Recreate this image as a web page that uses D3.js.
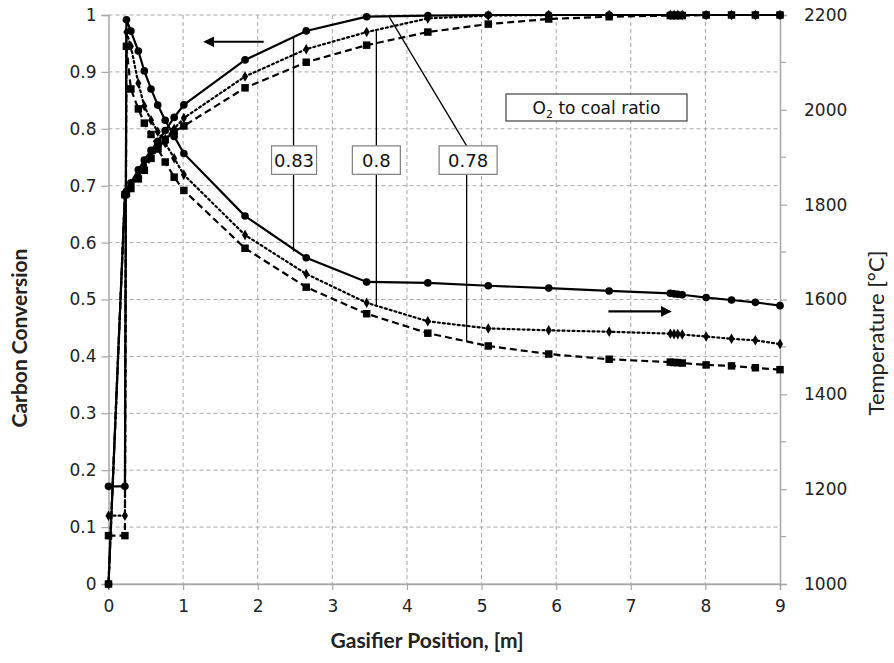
<!DOCTYPE html>
<html>
<head>
<meta charset="utf-8">
<script src="https://cdn.jsdelivr.net/npm/d3@7"></script>
<style>
  body { margin: 0; background: #fff; }
  svg { display: block; }
</style>
</head>
<body>
<svg id="chart" width="894" height="663"></svg>
<script>
// ---------- data ----------
const positions = [0, 0.22, 0.24, 0.30, 0.40, 0.48, 0.57, 0.66, 0.76, 0.88, 1.01, 1.83, 2.65, 3.46, 4.28, 5.09, 5.90, 6.71, 7.53, 7.58, 7.63, 7.69, 8.01, 8.35, 8.67, 9.00];

const ratios = ["0.83", "0.8", "0.78"];

const conv083 = [0, 0.684, 0.690, 0.705, 0.728, 0.745, 0.762, 0.778, 0.797, 0.820, 0.842, 0.921, 0.972, 0.997, 0.999, 1.0, 1.0, 1.0, 1.0, 1.0, 1.0, 1.0, 1.0, 1.0, 1.0, 1.0];
const conv080 = [0, 0.684, 0.688, 0.700, 0.720, 0.735, 0.752, 0.767, 0.782, 0.800, 0.819, 0.892, 0.940, 0.970, 0.994, 0.999, 1.0, 1.0, 1.0, 1.0, 1.0, 1.0, 1.0, 1.0, 1.0, 1.0];
const conv078 = [0, 0.684, 0.686, 0.695, 0.712, 0.727, 0.748, 0.765, 0.781, 0.795, 0.805, 0.872, 0.917, 0.947, 0.970, 0.984, 0.993, 0.997, 0.999, 0.999, 0.999, 0.999, 1.0, 1.0, 1.0, 1.0];

const temp083 = [1206, 1206, 2190, 2166, 2124, 2082, 2044, 2010, 1978, 1944, 1908, 1776, 1688, 1637, 1635, 1629, 1624, 1618, 1613, 1612, 1611, 1610, 1604, 1599, 1594, 1587];
const temp080 = [1144, 1144, 2164, 2134, 2056, 2008, 1978, 1954, 1930, 1898, 1863, 1736, 1654, 1593, 1554, 1539, 1535, 1532, 1528, 1527, 1527, 1526, 1522, 1517, 1514, 1506];
const temp078 = [1102, 1102, 2134, 2044, 2002, 1972, 1948, 1918, 1890, 1858, 1830, 1708, 1626, 1570, 1529, 1502, 1485, 1474, 1468, 1467, 1467, 1466, 1462, 1460, 1456, 1452];

const xTicks = [0, 1, 2, 3, 4, 5, 6, 7, 8, 9];
const convTicks = [0, 0.1, 0.2, 0.3, 0.4, 0.5, 0.6, 0.7, 0.8, 0.9, 1];
const tempTicks = [1000, 1200, 1400, 1600, 1800, 2000, 2200];
const tempGrid = [1000, 1100, 1200, 1300, 1400, 1500, 1600, 1700, 1800, 1900, 2000, 2100, 2200];

// ---------- layout ----------
const svg = d3.select("#chart");
const L = 108.5, R = 780, T = 15, B = 584;
const x = d3.scaleLinear().domain([0, 9]).range([L, R]);
const yC = d3.scaleLinear().domain([0, 1]).range([B, T]);
const yT = d3.scaleLinear().domain([1000, 2200]).range([B, T]);

const gridColor = "#a6a6a6";
const tickFont = "DejaVu Sans, Verdana, sans-serif";

// grid: horizontal (every 0.1 conversion)
svg.append("g").selectAll("line").data(convTicks).join("line")
  .attr("x1", L).attr("x2", R)
  .attr("y1", d => yC(d)).attr("y2", d => yC(d))
  .attr("stroke", gridColor).attr("stroke-width", 1)
  .attr("stroke-dasharray", d => d === 0 ? null : "4,3");
// grid: vertical
svg.append("g").selectAll("line").data(xTicks.slice(1, -1)).join("line")
  .attr("x1", d => x(d)).attr("x2", d => x(d))
  .attr("y1", T).attr("y2", B)
  .attr("stroke", gridColor).attr("stroke-width", 1)
  .attr("stroke-dasharray", "4,3");

// axes
function styleAxis(g) {
  g.select(".domain").attr("stroke", gridColor).attr("stroke-width", 1.5);
  g.selectAll(".tick line").attr("stroke", gridColor).attr("stroke-width", 1.2);
  g.selectAll(".tick text").attr("fill", "#222").attr("font-family", tickFont).attr("font-size", 17);
}
const xAxis = svg.append("g").attr("transform", `translate(0,${B})`)
  .call(d3.axisBottom(x).tickValues(xTicks).tickFormat(d3.format("d")).tickSizeOuter(0).tickSize(6).tickPadding(10));
styleAxis(xAxis);
const yAxisL = svg.append("g").attr("transform", `translate(${L},0)`)
  .call(d3.axisLeft(yC).tickValues(convTicks).tickFormat(d => d === 0 || d === 1 ? d3.format("d")(d) : d3.format(".1f")(d)).tickSizeOuter(0).tickSize(7).tickPadding(5));
styleAxis(yAxisL);
const yAxisR = svg.append("g").attr("transform", `translate(${R},0)`)
  .call(d3.axisRight(yT).tickValues(tempTicks).tickFormat(d3.format("d")).tickSizeOuter(0).tickSize(7).tickPadding(17));
styleAxis(yAxisR);
// minor ticks on right axis (grid positions)
svg.append("g").selectAll("line").data(tempGrid.filter(d => !tempTicks.includes(d))).join("line")
  .attr("x1", R).attr("x2", R + 6).attr("y1", d => yT(d)).attr("y2", d => yT(d))
  .attr("stroke", gridColor).attr("stroke-width", 1.2);

// axis titles
svg.append("text").attr("x", 427).attr("y", 648).attr("text-anchor", "middle")
  .attr("font-family", "Lato, sans-serif").attr("font-weight", "bold").attr("font-size", 21).attr("fill", "#222")
  .text("Gasifier Position, [m]");
svg.append("text").attr("transform", `translate(27,338) rotate(-90)`).attr("text-anchor", "middle")
  .attr("font-family", "Lato, sans-serif").attr("font-weight", "bold").attr("font-size", 21).attr("fill", "#222")
  .text("Carbon Conversion");
svg.append("text").attr("transform", `translate(884,333) rotate(-90)`).attr("text-anchor", "middle")
  .attr("font-family", "Lato, sans-serif").attr("font-size", 22).attr("fill", "#222")
  .text("Temperature [°C]");

// ---------- series ----------
const styles = [
  { dash: null, marker: "circle" },
  { dash: "2,3", marker: "diamond" },
  { dash: "7,4", marker: "square" }
];
const convSeries = [conv083, conv080, conv078];
const tempSeries = [temp083, temp080, temp078];

function drawSeries(values, yScale, st) {
  const pts = positions.map((p, i) => [x(p), yScale(values[i])]);
  svg.append("path").attr("d", d3.line()(pts))
    .attr("fill", "none").attr("stroke", "#000").attr("stroke-width", 2.2)
    .attr("stroke-dasharray", st.dash).attr("stroke-linecap", st.dash === "2,3" ? "round" : "butt");
  const sym = st.marker === "circle" ? d3.symbolCircle : st.marker === "diamond" ? d3.symbolDiamond : d3.symbolSquare;
  const size = st.marker === "circle" ? 46 : st.marker === "diamond" ? 32 : 56;
  svg.append("g").selectAll("path").data(pts).join("path")
    .attr("transform", d => `translate(${d[0]},${d[1]})`)
    .attr("d", d3.symbol().type(sym).size(size)())
    .attr("fill", "#000");
}
// draw in reverse so solid ends on top
for (let k = 2; k >= 0; k--) {
  drawSeries(convSeries[k], yC, styles[k]);
  drawSeries(tempSeries[k], yT, styles[k]);
}

// ---------- annotations ----------
const ann = svg.append("g");
function leader(x1, y1, x2, y2) {
  ann.append("line").attr("x1", x1).attr("y1", y1).attr("x2", x2).attr("y2", y2)
    .attr("stroke", "#000").attr("stroke-width", 1.3);
}
function labelBox(cx, cy, w, h, txt) {
  ann.append("rect").attr("x", cx - w / 2).attr("y", cy - h / 2).attr("width", w).attr("height", h)
    .attr("fill", "#fff").attr("stroke", "#7f7f7f").attr("stroke-width", 1.2);
  ann.append("text").attr("x", cx).attr("y", cy + 6.5).attr("text-anchor", "middle")
    .attr("font-family", tickFont).attr("font-size", 18).attr("fill", "#111").text(txt);
}
const boxTop = yC(0.77), boxBot = yC(0.72), boxMid = (boxTop + boxBot) / 2, boxH = boxBot - boxTop;
// 0.83
leader(x(2.48), yC(0.963), x(2.48), yT(1701));
labelBox(x(2.48) + 0.5, boxMid, 45, boxH, ratios[0]);
// 0.8
leader(x(3.59), yC(0.974), x(3.59), yT(1587));
labelBox(x(3.59), boxMid, 48, boxH, ratios[1]);
// 0.78
leader(x(3.76), yC(0.997), x(4.80), boxTop);
leader(x(4.80), boxBot, x(4.80), yT(1511));
labelBox(x(4.80) + 1.5, boxMid, 58, boxH, ratios[2]);

// legend-like box
const lg = ann.append("g");
lg.append("rect").attr("x", 506).attr("y", 94).attr("width", 181).attr("height", 27)
  .attr("fill", "#fff").attr("stroke", "#404040").attr("stroke-width", 1.2);
const lt = lg.append("text").attr("x", 596.5).attr("y", 113.5).attr("text-anchor", "middle")
  .attr("font-family", tickFont).attr("font-size", 17).attr("fill", "#111");
lt.append("tspan").text("O");
lt.append("tspan").attr("font-size", 11).attr("dy", 4).text("2");
lt.append("tspan").attr("dy", -4).text(" to coal ratio");

// arrows
const defs = svg.append("defs");
defs.append("marker").attr("id", "ah").attr("viewBox", "0 0 10 10").attr("refX", 8).attr("refY", 5)
  .attr("markerWidth", 5).attr("markerHeight", 5).attr("orient", "auto")
  .append("path").attr("d", "M0,0 L10,5 L0,10 z").attr("fill", "#000");
ann.append("line").attr("x1", x(2.08)).attr("y1", yC(0.953)).attr("x2", x(1.3)).attr("y2", yC(0.953))
  .attr("stroke", "#000").attr("stroke-width", 2.2).attr("marker-end", "url(#ah)");
ann.append("line").attr("x1", x(6.7)).attr("y1", yC(0.479)).attr("x2", x(7.52)).attr("y2", yC(0.479))
  .attr("stroke", "#000").attr("stroke-width", 2.2).attr("marker-end", "url(#ah)");
</script>
</body>
</html>
